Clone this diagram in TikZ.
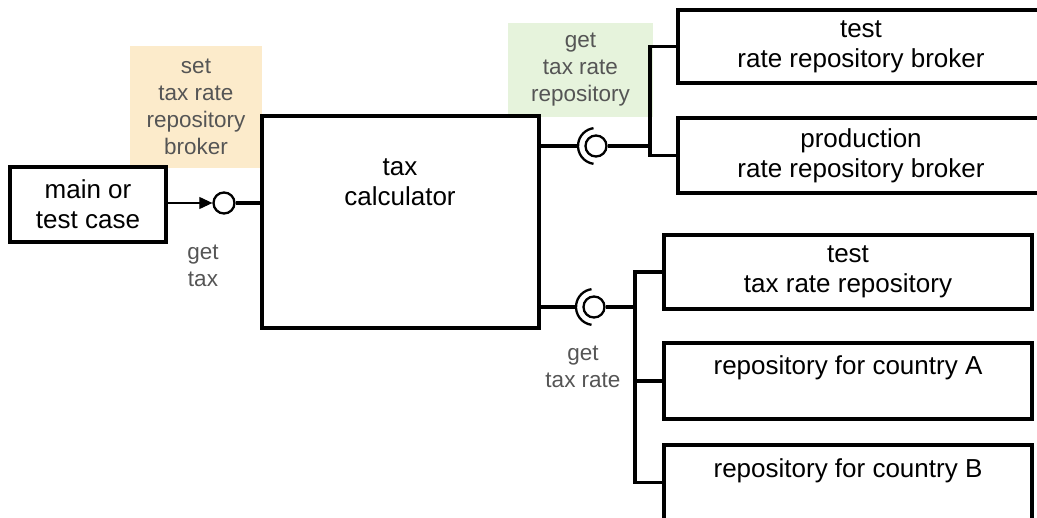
\documentclass[tikz,border=0pt]{standalone}
\usepackage{fontspec}
\setmainfont{Liberation Sans}
\usetikzlibrary{arrows.meta}
\definecolor{labelgray}{HTML}{555555}
\definecolor{setbg}{HTML}{FCEBCB}
\definecolor{getbg}{HTML}{E6F3DC}
\begin{document}
\begin{tikzpicture}[x=1pt,y=-1pt,
  box/.style={draw, line width=3.2pt, rectangle, inner sep=0pt, align=center,
              font=\fontsize{26}{30}\selectfont},
  boxtxt/.style={inner sep=0pt, align=center, font=\fontsize{26}{30}\selectfont},
  lbl/.style={text=labelgray, align=center, inner sep=0pt,
              font=\fontsize{22.5}{27}\selectfont},
  wire/.style={line width=3.2pt},
  ball/.style={circle, draw, line width=2.3pt, minimum size=21pt, inner sep=0pt, fill=white},
  sock/.style={line width=2.3pt},
  feed/.style={line width=1.1pt, -{Triangle[length=13pt,width=12pt]}}
]
\useasboundingbox (0,0) rectangle (1037,518);

% shaded interface notes
\node[lbl, fill=setbg, minimum width=132pt, minimum height=122pt] (setlbl) at (196,107)
  {set\\tax rate\\repository\\broker};
\node[lbl, fill=getbg, minimum width=145pt, minimum height=94pt] (getlbl) at (580.5,70)
  {get\\tax rate\\repository};

% components
\node[box, minimum width=156pt, minimum height=75pt] (main) at (88,204.5) {main or\\test case};
\node[box, minimum width=277pt, minimum height=212pt] (calc) at (400.5,222) {};
\node[boxtxt] (calctxt) at (400,182) {tax\\calculator};

\node[box, minimum width=366pt, minimum height=73pt] (trb) at (861,46.5) {test\\rate repository broker};
\node[box, minimum width=366pt, minimum height=75pt] (prb) at (861,155.5) {production\\rate repository broker};

\node[box, minimum width=368pt, minimum height=74pt] (ttr) at (848,272) {test\\tax rate repository};
\node[box, minimum width=368pt, minimum height=76pt] (ca) at (848,381) {};
\node[boxtxt] (catxt) at (848,368) {repository for country A};
\node[box, minimum width=368pt, minimum height=75pt] (cb) at (848,482.5) {};
\node[boxtxt] (cbtxt) at (848,471) {repository for country B};

% provided interface "get tax"
\node[ball] (lb) at (224,203) {};
\draw[feed] (main.east |- lb) -- (lb.west);
\draw[wire] (lb.east) -- (calc.west |- lb);
\node[lbl] (gettax) at (203,266) {get\\tax};

% required interface "get tax rate repository"
\node[ball] (tb) at (596,146) {};
\coordinate (tsock) at ([xshift=-18pt]tb.center);
\coordinate (tbus) at (650,146);
\draw[sock] ([shift={(98:18)}]tb.center) arc[start angle=98, end angle=262, radius=18];
\draw[wire] (calc.east |- tb) -- (tsock);
\draw[wire] (tb.east) -- (tbus);
\draw[wire] (trb.west) -| (tbus) |- (prb.west);

% required interface "get tax rate"
\node[ball] (bb) at (594,307) {};
\coordinate (bsock) at ([xshift=-18pt]bb.center);
\coordinate (bbus) at (635,307);
\draw[sock] ([shift={(98:18)}]bb.center) arc[start angle=98, end angle=262, radius=18];
\draw[wire] (calc.east |- bb) -- (bsock);
\draw[wire] (bb.east) -- (bbus);
\draw[wire] (ttr.west) -| (bbus) |- (cb.west);
\draw[wire] (bbus |- ca.west) -- (ca.west);
\node[lbl] (getrate) at (583,367) {get\\tax rate};
\end{tikzpicture}
\end{document}
